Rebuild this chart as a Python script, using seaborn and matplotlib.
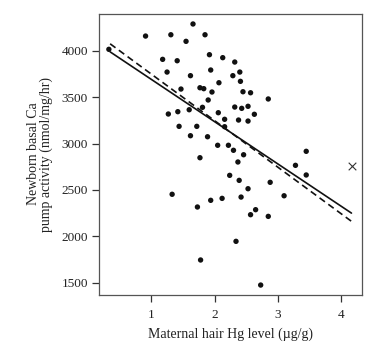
import numpy as np
import pandas as pd
import matplotlib
matplotlib.use("Agg")
import matplotlib.pyplot as plt
import seaborn as sns

hg = [0.33, 0.91, 1.31, 1.66, 1.55, 1.85, 1.18, 1.41, 1.25, 1.92, 1.62, 2.13,
      2.32, 1.94, 2.29, 2.40, 1.47, 1.77, 1.83, 2.07, 2.41, 1.96, 2.45, 2.57,
      2.85, 1.90, 1.27, 1.42, 1.60, 1.81, 2.32, 2.43, 2.53, 2.06, 2.63, 2.16,
      2.38, 2.53, 1.44, 1.72, 2.16, 1.62, 1.89, 2.05, 2.22, 2.30, 2.46, 1.77,
      3.45, 2.37, 3.28, 3.45, 2.24, 2.39, 2.88, 2.53, 1.33, 1.94, 2.12, 2.42,
      3.10, 1.73, 2.65, 2.57, 2.85, 2.34, 1.78, 2.73]
ca = [4015, 4158, 4172, 4288, 4101, 4172, 3907, 3892, 3770, 3957, 3731, 3925,
      3878, 3792, 3731, 3770, 3587, 3601, 3591, 3655, 3670, 3555, 3558, 3547,
      3480, 3469, 3318, 3343, 3364, 3390, 3393, 3379, 3401, 3332, 3315, 3261,
      3253, 3242, 3185, 3185, 3181, 3084, 3073, 2981, 2981, 2927, 2879, 2847,
      2916, 2801, 2765, 2661, 2657, 2603, 2582, 2513, 2453, 2388, 2409, 2423,
      2437, 2316, 2287, 2233, 2215, 1946, 1745, 1475]

# Outlier (marked with x)
outlier_hg = [4.17]
outlier_ca = [2761]

# Fitted lines (intercept, slope)
fit_all = (4147, -455.4)      # solid
fit_excl = (4250, -501.4)     # dashed
line_x = [0.35, 4.165]

yticks = [1500, 2000, 2500, 3000, 3500, 4000]
xticks = [1, 2, 3, 4]

sns.set_style("ticks")
plt.rcParams['font.family'] = ['Liberation Serif', 'DejaVu Serif']

fig = plt.figure(figsize=(3.91, 3.58), dpi=100)
ax = fig.add_axes([99/391, 1-294.7/358, (361.7-99)/391, (294.7-13.5)/358])

df = pd.DataFrame({"hg": hg, "ca": ca})
sns.scatterplot(data=df, x="hg", y="ca", ax=ax, color="#111111", s=15,
                edgecolor="none", linewidth=0)
sns.scatterplot(x=outlier_hg, y=outlier_ca, ax=ax, marker="x", color="#333333",
                s=30, linewidth=0.8)

lx = np.array(line_x)
ldf = pd.DataFrame({"x": np.concatenate([lx, lx]),
                    "y": np.concatenate([fit_all[0] + fit_all[1] * lx,
                                         fit_excl[0] + fit_excl[1] * lx]),
                    "fit": ["all"] * 2 + ["excl"] * 2})
sns.lineplot(data=ldf[ldf.fit == "all"], x="x", y="y", ax=ax, color="#111111",
             linewidth=1.2)
sns.lineplot(data=ldf[ldf.fit == "excl"], x="x", y="y", ax=ax, color="#111111",
             linewidth=1.2, dashes=False, linestyle=(0, (4, 2.5)))

ax.set_xlim(0.174, 4.327)
ax.set_ylim(1371, 4401)
ax.set_xticks(xticks)
ax.set_yticks(yticks)
for sp in ax.spines.values():
    sp.set_visible(True)
    sp.set_color("#555555")
    sp.set_linewidth(0.9)
ax.tick_params(direction="out", length=5, width=0.9, color="#333333",
               labelsize=9.5, labelcolor="#222222", pad=3)
ax.tick_params(axis="x", pad=5)
ax.set_xlabel("Maternal hair Hg level (µg/g)", fontsize=10, color="#222222",
              labelpad=5)
ax.set_ylabel("Newborn basal Ca\npump activity (nmol/mg/hr)", fontsize=10,
              color="#222222", labelpad=6, linespacing=1.0)

fig.savefig("out.png", dpi=100)
